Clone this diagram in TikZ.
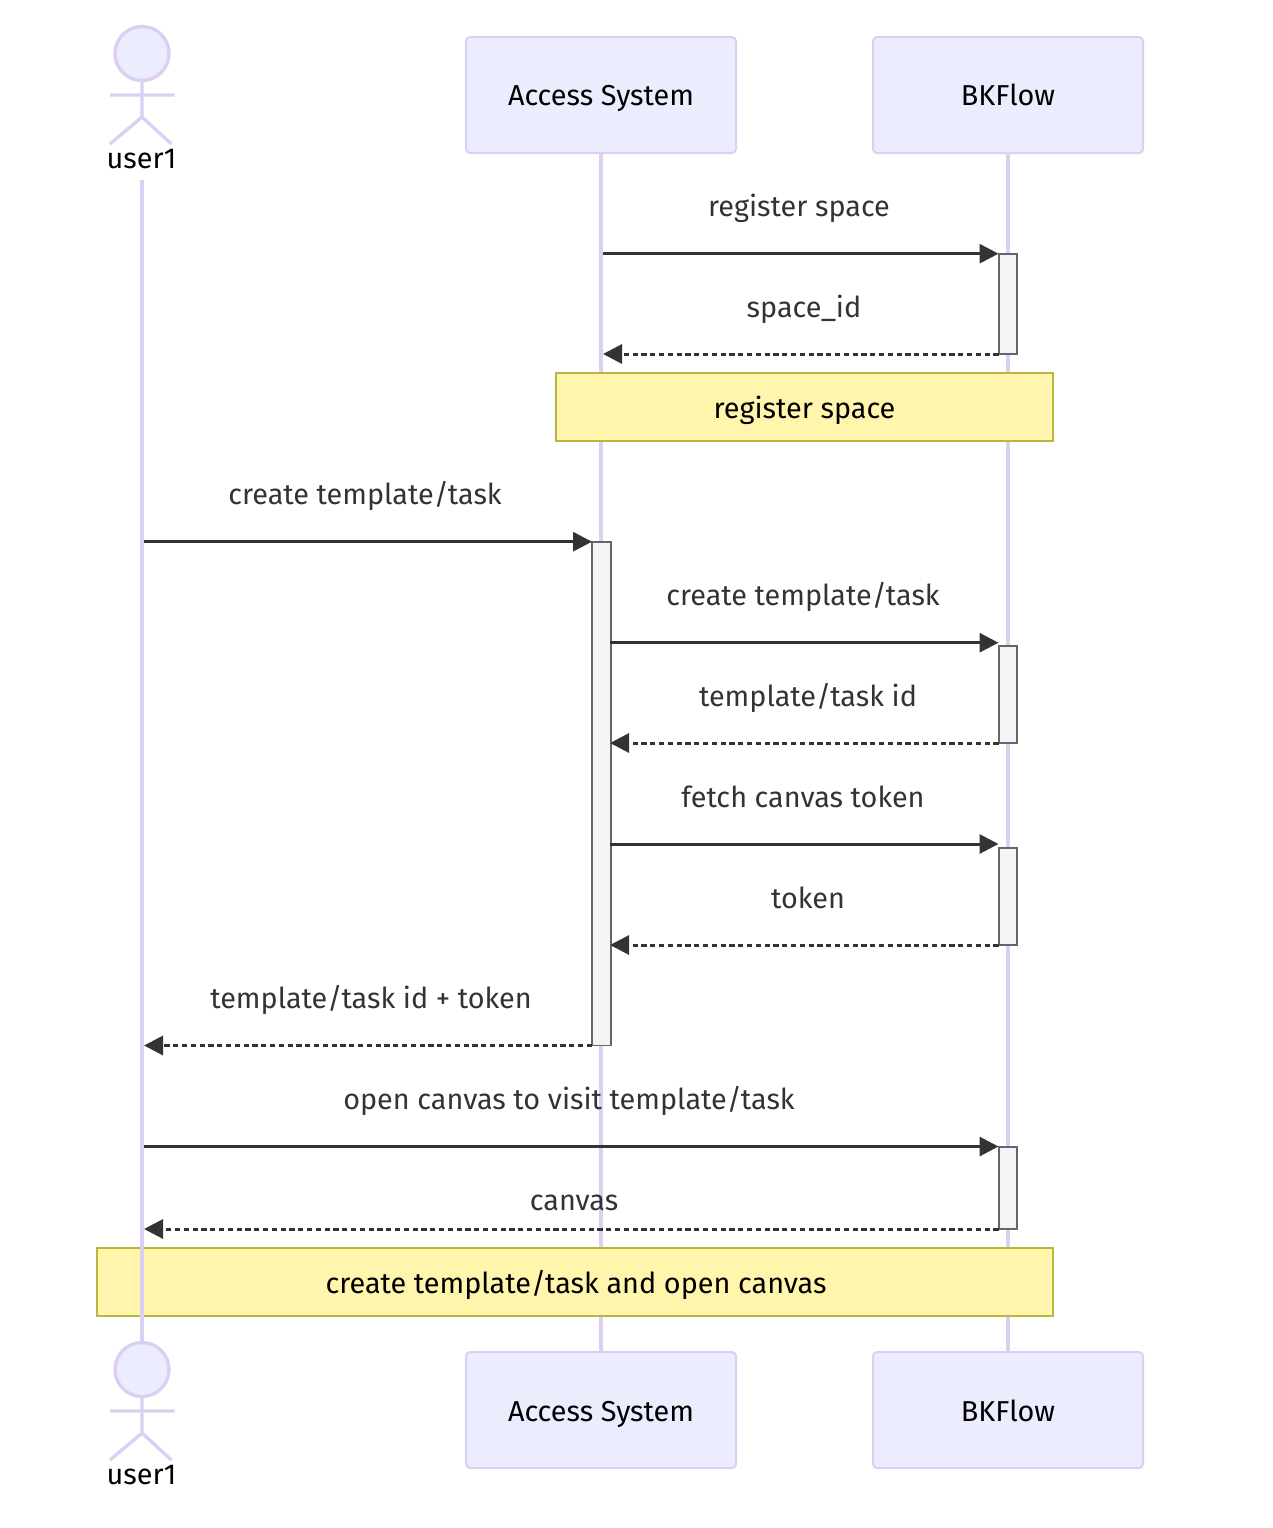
\documentclass[tikz,border=0pt]{standalone}
\usepackage{fontspec}
\setmainfont{Fira Sans}
\usetikzlibrary{arrows.meta}
\definecolor{lifeC}{HTML}{DBD0F3}
\definecolor{actorF}{HTML}{ECECFF}
\definecolor{actorD}{HTML}{DBD0F3}
\definecolor{msgC}{HTML}{333333}
\definecolor{noteF}{HTML}{FFF5AD}
\definecolor{noteD}{HTML}{B9B63F}
\definecolor{actvF}{HTML}{F4F4F4}
\definecolor{actvD}{HTML}{666666}
\tikzset{
  x=1pt,y=-1pt,
  every node/.style={inner sep=0pt,outer sep=0pt,font=\fontsize{28.8}{34}\selectfont},
  labeltext/.style={text height=27pt,text depth=6pt},
  lifeline/.style={draw=lifeC,line width=3.6pt},
  actorbox/.style={labeltext,draw=actorD,fill=actorF,line width=2pt,rounded corners=4pt,minimum width=270pt,minimum height=116pt,text=black},
  actorline/.style={draw=actorD,line width=3.4pt},
  actorhead/.style={circle,draw=actorD,fill=actorF,line width=3.4pt,minimum size=54pt},
  actorname/.style={labeltext,text=black},
  msgtext/.style={labeltext,text=msgC},
  notebox/.style={labeltext,draw=noteD,fill=noteF,line width=2pt,text=black,minimum height=68pt},
  actv/.style={draw=actvD,fill=actvF,line width=1.8pt,minimum width=18.5pt},
  call/.style={draw=msgC,line width=3pt,-{Triangle[length=19pt,width=19pt,fill=msgC]}},
  reply/.style={call,dash pattern=on 5.2pt off 3.6pt},
}
\newcommand{\actv}[4]{\node[actv,minimum height=#4-#3,anchor=north] (#1) at (#2,#3) {};}
\begin{document}
\begin{tikzpicture}
\useasboundingbox (0,0) rectangle (1272,1528);
% named lifeline points
\coordinate (ast) at (601,153); \coordinate (asb) at (601,1352);
\coordinate (bkt) at (1008,153); \coordinate (bkb) at (1008,1352);
\coordinate (ut) at (142,180); \coordinate (ub) at (142,1343);
\draw[lifeline] (ast) -- (asb);
\draw[lifeline] (bkt) -- (bkb);
% actor boxes
\node[actorbox] (as1) at (601,95) {Access System};
\node[actorbox] (bk1) at (1008,95) {BKFlow};
\node[actorbox] (as2) at (601,1410) {};
\node[actorbox] (bk2) at (1008,1410) {};
\node[actorname] (as2t) at (601,1411) {Access System};
\node[actorname] (bk2t) at (1008,1411) {BKFlow};
% notes
\node[notebox,minimum width=497pt] (n1) at (804.5,407) {};
\node[actorname] (n1t) at (804.5,408) {register space};
\node[notebox,minimum width=956pt] (n2) at (575,1281.5) {};
\node[actorname] (n2t) at (576,1283) {create template/task and open canvas};
\draw[lifeline] (ut) -- (ub);
% stick figures
\node[actorhead] (h1) at (142,53.5) {};
\coordinate (w1) at (142,117); \coordinate (al1) at (110,95); \coordinate (ar1) at (174.5,95);
\coordinate (ll1) at (110,144); \coordinate (lr1) at (171.5,144);
\draw[actorline] (h1.south) -- (w1) (al1) -- (ar1) (ll1) -- (w1) -- (lr1);
\node[actorname] (u1) at (141.5,158) {user1};
\node[actorhead] (h2) at (142,1369.5) {};
\coordinate (w2) at (142,1433); \coordinate (al2) at (110,1411); \coordinate (ar2) at (174.5,1411);
\coordinate (ll2) at (110,1460); \coordinate (lr2) at (171.5,1460);
\draw[actorline] (h2.south) -- (w2) (al2) -- (ar2) (ll2) -- (w2) -- (lr2);
\node[actorname] (u2) at (141.5,1474) {user1};
% activations
\actv{a1}{1008}{254}{354}
\actv{a2}{601.5}{542}{1045.5}
\actv{a3}{1008}{646}{743}
\actv{a4}{1008}{848}{945}
\actv{a5}{1008}{1147}{1229}
% message end points
\coordinate (p1) at (603,253.7); \coordinate (q1) at (998.5,253.7);
\coordinate (p2) at (998.5,354); \coordinate (q2) at (603,354);
\coordinate (p3) at (144,541.7); \coordinate (q3) at (592,541.7);
\coordinate (p4) at (610,642.7); \coordinate (q4) at (998.5,642.7);
\coordinate (p5) at (998.5,743); \coordinate (q5) at (610,743);
\coordinate (p6) at (610,844); \coordinate (q6) at (998.5,844);
\coordinate (p7) at (998.5,945); \coordinate (q7) at (610,945);
\coordinate (p8) at (592,1045.5); \coordinate (q8) at (144,1045.5);
\coordinate (p9) at (144,1146.5); \coordinate (q9) at (998.5,1146.5);
\coordinate (p10) at (998.5,1229); \coordinate (q10) at (144,1229);
\draw[call] (p1) -- (q1);
\draw[reply] (p2) -- (q2);
\draw[call] (p3) -- (q3);
\draw[call] (p4) -- (q4);
\draw[reply] (p5) -- (q5);
\draw[call] (p6) -- (q6);
\draw[reply] (p7) -- (q7);
\draw[reply] (p8) -- (q8);
\draw[call] (p9) -- (q9);
\draw[reply] (p10) -- (q10);
% message labels
\node[msgtext] (t1) at (799,206) {register space};
\node[msgtext] (t2) at (804,307) {space\_id};
\node[msgtext] (t3) at (365,494) {create template/task};
\node[msgtext] (t4) at (803,595) {create template/task};
\node[msgtext] (t5) at (808,696) {template/task id};
\node[msgtext] (t6) at (803,797) {fetch canvas token};
\node[msgtext] (t7) at (808,898) {token};
\node[msgtext] (t8) at (371,998) {template/task id + token};
\node[msgtext] (t9) at (569,1099) {open canvas to visit template/task};
\node[msgtext] (t10) at (574,1200) {canvas};
\end{tikzpicture}
\end{document}
